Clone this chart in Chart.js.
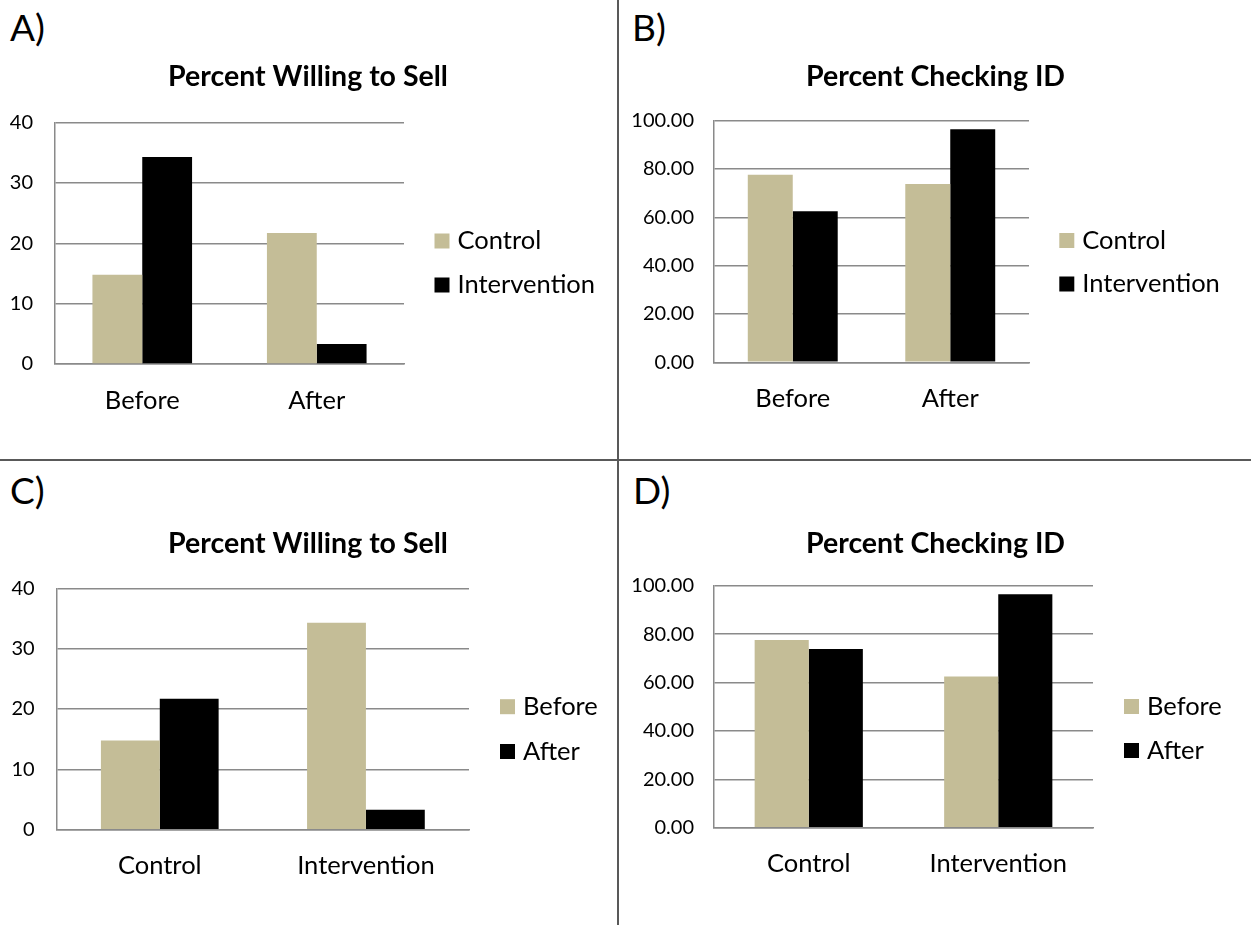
<!DOCTYPE html>
<html>
<head>
<meta charset="utf-8">
<script src="https://cdn.jsdelivr.net/npm/chart.js@4/dist/chart.umd.min.js"></script>
<style>
  html, body { margin: 0; padding: 0; background: #fff; }
  body { width: 1251px; height: 925px; position: relative; overflow: hidden; font-family: Lato, "Liberation Sans", sans-serif; }
  canvas { position: absolute; }
  .tag { position: absolute; font-family: Lato, sans-serif; font-size: 37px; line-height: 1; color: #000; }
  .rule { position: absolute; background: #595959; }
</style>
</head>
<body>
<div class="rule" style="left:616.5px; top:0; width:2px; height:925px;"></div>
<div class="rule" style="left:0; top:459px; width:1251px; height:2px;"></div>
<div class="tag" style="left:10px; top:8px;">A)</div>
<div class="tag" style="left:632px; top:8px;">B)</div>
<div class="tag" style="left:10px; top:471px;">C)</div>
<div class="tag" style="left:633px; top:471px;">D)</div>

<canvas id="chartA" width="616" height="458" style="left:0; top:0;"></canvas>
<canvas id="chartB" width="631" height="458" style="left:620px; top:0;"></canvas>
<canvas id="chartC" width="616" height="463" style="left:0; top:462px;"></canvas>
<canvas id="chartD" width="631" height="463" style="left:620px; top:462px;"></canvas>

<script>
// Survey results: share of vendors willing to sell, and share checking ID
const periods = ['Before', 'After'];
const groups = ['Control', 'Intervention'];

const sellControl = [14.8, 21.7];       // Before, After
const sellIntervention = [34.3, 3.3];   // Before, After
const idControl = [77.6, 73.8];         // Before, After
const idIntervention = [62.5, 96.5];    // Before, After

const sellTicks = [0, 10, 20, 30, 40];
const idTicks = [0, 20, 40, 60, 80, 100];

const titleSell = 'Percent Willing to Sell';
const titleId = 'Percent Checking ID';

const TAN = '#C4BD97';
const BLACK = '#000000';
const GRID = '#8a8a8a';
const FONT = 'Lato, "Liberation Sans", sans-serif';

Chart.defaults.font.family = FONT;
Chart.defaults.color = '#000';

// Legend drawn to the right of the plot area, one square swatch per dataset
const sideLegend = {
  id: 'sideLegend',
  afterDraw(chart, args, opts) {
    const ctx = chart.ctx;
    ctx.save();
    ctx.font = opts.size + 'px ' + FONT;
    ctx.textBaseline = 'middle';
    ctx.textAlign = 'left';
    chart.data.datasets.forEach((ds, i) => {
      const y = opts.y + i * opts.step;
      ctx.fillStyle = ds.backgroundColor;
      ctx.fillRect(opts.x, y - opts.box / 2, opts.box, opts.box);
      ctx.fillStyle = '#000';
      ctx.fillText(ds.label, opts.x + opts.box + opts.gap, y);
    });
    ctx.restore();
  }
};

function makeChart(id, cfg) {
  const canvas = document.getElementById(id);
  const H = canvas.height, W = canvas.width;
  const titleSize = 28.5, titleLH = 1.2;
  const titleBox = titleSize * titleLH;
  const padTop = cfg.titleY - titleBox / 2;
  const padBottom = cfg.area.top - padTop - titleBox;
  return new Chart(canvas, {
    type: 'bar',
    data: {
      labels: cfg.labels,
      datasets: cfg.series.map(s => ({
        label: s.label,
        data: s.data,
        backgroundColor: s.color,
        borderWidth: 0,
        categoryPercentage: 0.571,
        barPercentage: 1.0,
        yAxisID: 'y'
      }))
    },
    options: {
      responsive: false,
      devicePixelRatio: 1,
      animation: false,
      layout: { padding: 0 },
      plugins: {
        legend: { display: false },
        tooltip: { enabled: false },
        title: {
          display: true,
          text: cfg.title,
          color: '#000',
          font: { size: titleSize, weight: 'bold', lineHeight: titleLH },
          padding: { top: padTop, bottom: padBottom }
        },
        sideLegend: cfg.legend
      },
      scales: {
        x: {
          grid: { display: false, drawTicks: false },
          border: { display: true, color: GRID, width: 1.5 },
          ticks: { font: { size: 25.5 }, color: '#000', padding: cfg.xPad, maxRotation: 0 },
          afterFit(scale) { scale.height = H - cfg.area.bottom; }
        },
        y: {
          min: cfg.ticks[0],
          max: cfg.ticks[cfg.ticks.length - 1],
          afterBuildTicks(scale) { scale.ticks = cfg.ticks.map(v => ({ value: v })); },
          grid: { color: GRID, lineWidth: 1.5, drawTicks: false },
          border: { display: true, color: GRID, width: 1.5 },
          ticks: {
            font: { size: 20 },
            color: '#000',
            padding: cfg.yPad,
            callback: cfg.fmt
          },
          afterFit(scale) { scale.width = cfg.area.left; }
        },
        // empty right-hand strip that holds the legend column
        side: {
          type: 'linear',
          position: 'right',
          grid: { display: false, drawTicks: false },
          border: { display: false },
          ticks: { display: false },
          afterFit(scale) { scale.width = W - cfg.area.right; }
        }
      }
    },
    plugins: [sideLegend]
  });
}

const fmtInt = v => String(v);
const fmtFixed = v => Number(v).toFixed(2);

// A) by period, split by group
makeChart('chartA', {
  labels: periods,
  title: titleSell,
  titleY: 77,
  area: { left: 55, right: 404, top: 122.7, bottom: 364 },
  ticks: sellTicks, fmt: fmtInt, yPad: 22, xPad: 21,
  series: [
    { label: groups[0], data: sellControl, color: TAN },
    { label: groups[1], data: sellIntervention, color: BLACK }
  ],
  legend: { x: 434.5, y: 241, step: 44, box: 15, gap: 8, size: 25.5 }
});

// B) by period, split by group
makeChart('chartB', {
  labels: periods,
  title: titleId,
  titleY: 77,
  area: { left: 94, right: 409, top: 120.7, bottom: 362.3 },
  ticks: idTicks, fmt: fmtFixed, yPad: 20, xPad: 21,
  series: [
    { label: groups[0], data: idControl, color: TAN },
    { label: groups[1], data: idIntervention, color: BLACK }
  ],
  legend: { x: 439.3, y: 240.5, step: 43.5, box: 15, gap: 8, size: 25.5 }
});

// C) by group, split by period
makeChart('chartC', {
  labels: groups,
  title: titleSell,
  titleY: 82,
  area: { left: 56.7, right: 469, top: 126.3, bottom: 367.7 },
  ticks: sellTicks, fmt: fmtInt, yPad: 22, xPad: 21,
  series: [
    { label: periods[0], data: [sellControl[0], sellIntervention[0]], color: TAN },
    { label: periods[1], data: [sellControl[1], sellIntervention[1]], color: BLACK }
  ],
  legend: { x: 500, y: 244.7, step: 44.8, box: 15, gap: 8, size: 25.5 }
});

// D) by group, split by period
makeChart('chartD', {
  labels: groups,
  title: titleId,
  titleY: 82,
  area: { left: 94, right: 473, top: 123.7, bottom: 365.7 },
  ticks: idTicks, fmt: fmtFixed, yPad: 20, xPad: 21,
  series: [
    { label: periods[0], data: [idControl[0], idIntervention[0]], color: TAN },
    { label: periods[1], data: [idControl[1], idIntervention[1]], color: BLACK }
  ],
  legend: { x: 504, y: 244.5, step: 44, box: 15, gap: 8, size: 25.5 }
});
</script>
</body>
</html>
